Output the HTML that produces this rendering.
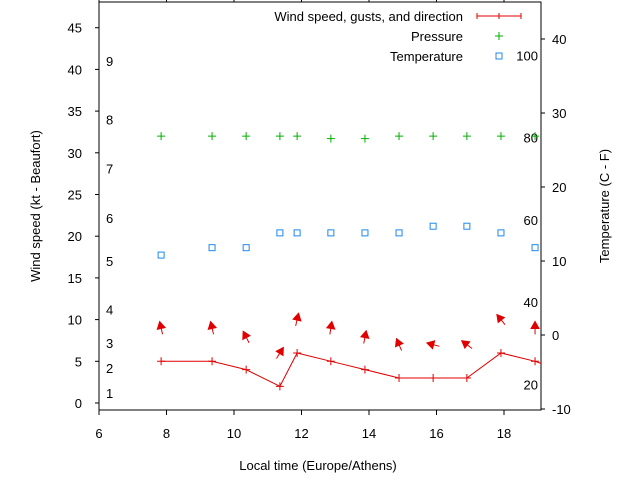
<!DOCTYPE html>
<html><head><meta charset="utf-8"><style>
body{margin:0;background:#fff}
svg{display:block;font-family:"Liberation Sans",sans-serif;font-size:13px}
</style></head><body>
<svg id="c" width="640" height="480" xmlns="http://www.w3.org/2000/svg"></svg>
<script>
const times=[7.84,9.35,10.36,11.36,11.87,12.87,13.88,14.89,15.9,16.9,17.91,18.92,19.4];
const wind=[5,5,4,2,6,5,4,3,3,3,6,5,4.3];
const gust=[9,9,7.9,6,10,9,7.9,7,7,7,10,9];
const heading=[347,347,333,32,13,9,11,337,285,307,321,0];
const pressure=[32,32,32,32,32,31.7,31.7,32,32,32,32,32];
const temperature=[10.8,11.8,11.8,13.8,13.8,13.8,13.8,13.8,14.7,14.7,13.8,11.8];
const xTicks=[6,8,10,12,14,16,18];
const yTicks=[0,5,10,15,20,25,30,35,40,45];
const y2Ticks=[-10,0,10,20,30,40];
const bftLabels=["1","2","3","4","5","6","7","8","9"];
const bftPos=[1.2,4.2,7.2,11.2,17,22.2,28.1,34,41];
const fLabels=["20","40","60","80","100"];

const L=99,R=541,T=2,B=410;
const x=t=>L+(t-6)*33.75;
const y=v=>403-v*8.34;
const y2=c=>335-c*7.4;
const svg=document.getElementById('c');
const NS="http://www.w3.org/2000/svg";
function mk(tag,attrs,parent){const e=document.createElementNS(NS,tag);for(const k in attrs)e.setAttribute(k,attrs[k]);(parent||svg).appendChild(e);return e;}
function txt(s,xx,yy,anchor,parent){const e=mk('text',{x:xx,y:yy,'text-anchor':anchor||'start'},parent);e.textContent=s;return e;}

const clip=mk('clipPath',{id:'pc'});mk('rect',{x:L,y:T,width:R-L,height:B-T},clip);

const frame=mk('rect',{x:L,y:T,width:R-L,height:B-T,fill:'none',stroke:'#000','stroke-width':1});



xTicks.forEach(t=>{
  mk('line',{x1:x(t),x2:x(t),y1:B,y2:B+5,stroke:'#000'});
  mk('line',{x1:x(t),x2:x(t),y1:T,y2:T-4,stroke:'#000'});
  const e=txt(t,x(t),B+28,'middle');
  
  
});
yTicks.forEach(v=>{
  mk('line',{x1:L-4,x2:L,y1:y(v),y2:y(v),stroke:'#000'});
  const e=txt(v,82,y(v)+5,'end');
  
  
});
y2Ticks.forEach(v=>{
  mk('line',{x1:R,x2:R+4,y1:y2(v),y2:y2(v),stroke:'#000'});
  const e=txt(v,552,y2(v)+5,'start');
  
  
});
bftLabels.forEach((s,i)=>{
  const e=txt(s,106,y(bftPos[i])+5,'start');
  
  
});
fLabels.forEach(s=>{
  const c=(+s-32)*5/9;
  const e=txt(s,538,y2(c)+5,'end');
  
  
});

const xt=txt('Local time (Europe/Athens)',318,470,'middle');


const yt=txt('Wind speed (kt - Beaufort)',0,0,'middle');
yt.setAttribute('transform','translate(40,206) rotate(-90)');


const y2t=txt('Temperature (C - F)',0,0,'middle');
y2t.setAttribute('transform','translate(609,206) rotate(-90)');



const g=mk('g',{'clip-path':'url(#pc)'});
const wl=mk('polyline',{points:times.map((t,i)=>x(t)+','+y(wind[i])).join(' '),fill:'none',stroke:'#e00000','stroke-width':1},g);


times.forEach((t,i)=>{
  const p=mk('path',{d:`M${x(t)-4},${y(wind[i])}h8M${x(t)},${y(wind[i])-4}v8`,stroke:'#e00000'},g);
  
  
});
gust.forEach((v,i)=>{
  const cx=x(times[i]),cy=y(v),a=heading[i]*Math.PI/180,len=13;
  const dx=Math.sin(a),dy=-Math.cos(a);
  const hx=cx+dx*len/2,hy=cy+dy*len/2,tx=cx-dx*len/2,ty=cy-dy*len/2;
  const ag=mk('g',{},g);
  
  
  mk('line',{x1:tx,y1:ty,x2:hx,y2:hy,stroke:'#e00000'},ag);
  const px=-dy,py=dx;
  mk('polygon',{points:`${hx},${hy} ${hx-dx*7+px*4},${hy-dy*7+py*4} ${hx-dx*7-px*4},${hy-dy*7-py*4}`,fill:'#e00000',stroke:'#e00000'},ag);
});
pressure.forEach((v,i)=>{
  const p=mk('path',{d:`M${x(times[i])-4},${y(v)}h8M${x(times[i])},${y(v)-4}v8`,stroke:'#00b000'},g);
  
  
});
temperature.forEach((v,i)=>{
  const r=mk('rect',{x:x(times[i])-3,y:y2(v)-3,width:6,height:6,fill:'none',stroke:'#1e88ee'},g);
  
  
});

const lg=mk('g',{});


txt('Wind speed, gusts, and direction',463,21,'end',lg);
mk('path',{d:'M477,16h44M477,13v6M521,13v6M499,13v6',stroke:'#e00000'},lg);
txt('Pressure',463,41,'end',lg);
mk('path',{d:'M495,36h8M499,32v8',stroke:'#00b000'},lg);
txt('Temperature',463,61,'end',lg);
mk('rect',{x:496,y:53,width:6,height:6,fill:'none',stroke:'#1e88ee'},lg);
</script>
</body></html>
